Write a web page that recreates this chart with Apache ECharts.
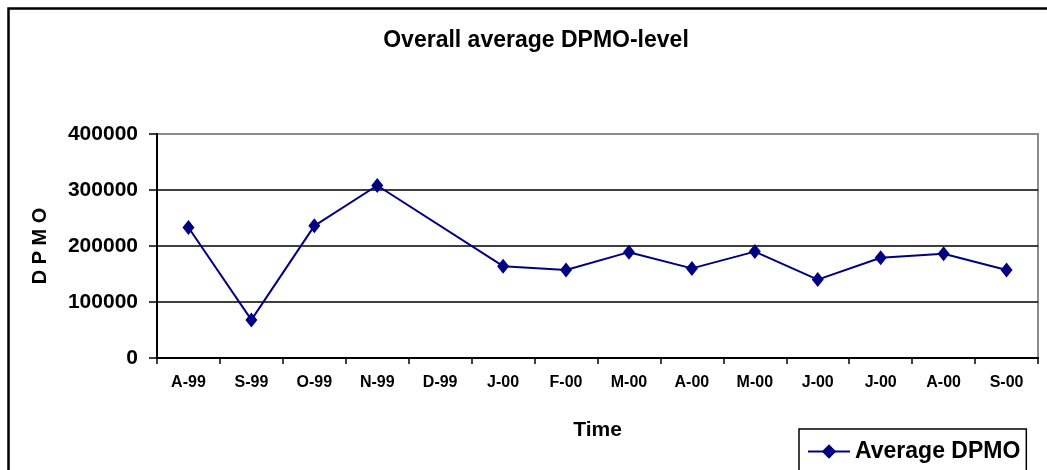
<!DOCTYPE html>
<html>
<head>
<meta charset="utf-8">
<script src="https://cdn.jsdelivr.net/npm/echarts@6/dist/echarts.min.js"></script>
<style>
  html, body { margin: 0; padding: 0; background: #fff; }
  #chart { width: 1047px; height: 470px; }
</style>
</head>
<body>
<div id="chart"></div>
<script>
// Monthly categories, Aug 1999 – Sep 2000
const months = ['A-99', 'S-99', 'O-99', 'N-99', 'D-99', 'J-00', 'F-00', 'M-00', 'A-00', 'M-00', 'J-00', 'J-00', 'A-00', 'S-00'];
// Average DPMO per month (no figure for December 1999)
const averageDpmo = [233000, 68000, 236000, 308000, null, 164000, 157000, 189000, 160000, 190000, 140000, 179000, 186000, 157000];
// Value-axis ticks
const yTicks = [0, 100000, 200000, 300000, 400000];

const FONT = '"Liberation Sans", Arial, sans-serif';
const chart = echarts.init(document.getElementById('chart'), null, { renderer: 'canvas' });

chart.setOption({
  animation: false,
  backgroundColor: '#fff',
  textStyle: { fontFamily: FONT },
  title: {
    text: 'Overall average DPMO-level',
    left: 531,
    textAlign: 'center',
    top: 24,
    textStyle: { fontFamily: FONT, fontWeight: 'bold', fontSize: 23, color: '#000' }
  },
  // chart frame
  graphic: [{
    type: 'rect',
    left: 6, top: 6,
    shape: { width: 1100, height: 520 },
    style: { fill: 'none', stroke: '#000', lineWidth: 2.5 },
    silent: true, z: 100
  }],
  legend: {
    data: ['Average DPMO'],
    left: 799,
    top: 429,
    orient: 'horizontal',
    padding: [11, 6, 20, 8],
    borderColor: '#000',
    borderWidth: 1.5,
    itemWidth: 42,
    itemHeight: 18,
    itemGap: 6,
    textStyle: { fontFamily: FONT, fontWeight: 'bold', fontSize: 23, color: '#000' }
  },
  grid: {
    left: 157, right: 9, top: 134, bottom: 112,
    show: true,
    borderColor: '#8c8c8c',
    borderWidth: 2,
    backgroundColor: '#fff'
  },
  xAxis: {
    type: 'category',
    data: months,
    boundaryGap: true,
    name: 'Time',
    nameLocation: 'middle',
    nameGap: 62,
    nameTextStyle: { fontFamily: FONT, fontWeight: 'bold', fontSize: 21, color: '#000' },
    axisLine: { show: true, lineStyle: { color: '#000', width: 2 } },
    axisTick: { show: true, length: 6, lineStyle: { color: '#000', width: 1.5 } },
    axisLabel: { interval: 0, margin: 17, fontFamily: FONT, fontWeight: 'bold', fontSize: 16, color: '#000' },
    splitLine: { show: false }
  },
  yAxis: {
    type: 'value',
    min: yTicks[0],
    max: yTicks[yTicks.length - 1],
    interval: yTicks[1] - yTicks[0],
    name: 'D P M O',
    nameLocation: 'middle',
    nameGap: 107,
    nameRotate: 90,
    nameTextStyle: { fontFamily: FONT, fontWeight: 'bold', fontSize: 20, color: '#000' },
    axisLine: { show: true, lineStyle: { color: '#000', width: 2 } },
    axisTick: { show: true, length: 8, lineStyle: { color: '#000', width: 1.5 } },
    axisLabel: {
      margin: 19, fontFamily: FONT, fontWeight: 'bold', fontSize: 21, color: '#000',
      formatter: (v) => String(v)
    },
    splitLine: { show: true, lineStyle: { color: ['#000', '#000', '#000', '#000', '#8c8c8c'], width: 1.6 } }
  },
  series: [{
    name: 'Average DPMO',
    type: 'line',
    data: averageDpmo,
    connectNulls: true,
    symbol: 'diamond',
    symbolSize: [12, 15],
    showSymbol: true,
    lineStyle: { color: '#000080', width: 2 },
    itemStyle: { color: '#000080', borderWidth: 0 },
    z: 5
  }]
});
</script>
</body>
</html>
